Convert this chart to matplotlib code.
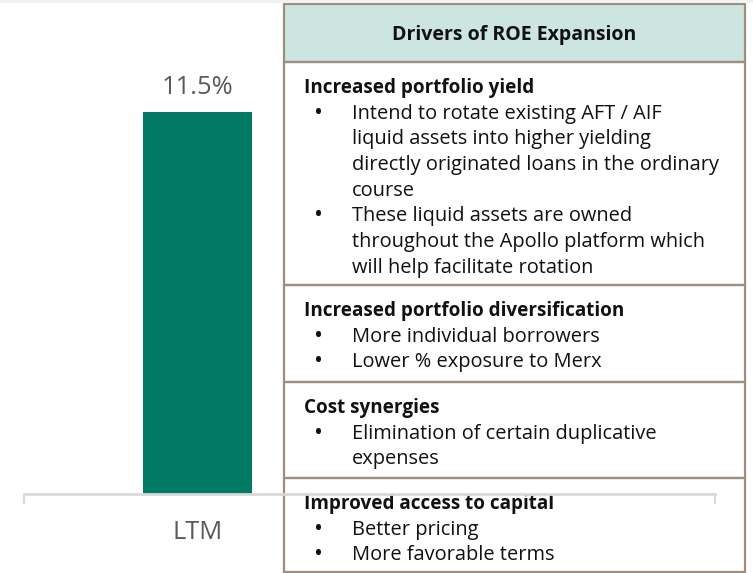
import matplotlib
matplotlib.use("Agg")
import matplotlib.pyplot as plt
from matplotlib.patches import Rectangle

plt.rcParams['font.family'] = ['Open Sans', 'DejaVu Sans']

# ---- data ----
categories = ["LTM"]
roe_values = [11.5]
value_labels = ["11.5%"]

table_title = "Drivers of ROE Expansion"
driver_headings = [
    "Increased portfolio yield",
    "Increased portfolio diversification",
    "Cost synergies",
    "Improved access to capital",
]
driver_bullets = [
    [["Intend to rotate existing AFT / AIF", "liquid assets into higher yielding",
      "directly originated loans in the ordinary", "course"],
     ["These liquid assets are owned", "throughout the Apollo platform which",
      "will help facilitate rotation"]],
    [["More individual borrowers"], ["Lower % exposure to Merx"]],
    [["Elimination of certain duplicative", "expenses"]],
    [["Better pricing"], ["More favorable terms"]],
]

W, H = 753, 573
DPI = 100
fig = plt.figure(figsize=(W / DPI, H / DPI), dpi=DPI)
fig.patch.set_facecolor("white")

# top grey strip
fig.patches.append(Rectangle((0, 1 - 3 / H), 1, 3 / H, transform=fig.transFigure,
                             facecolor="#f2f2f2", edgecolor="none", zorder=0))

# ---- table (pixel coordinate overlay) ----
tab = fig.add_axes([0, 0, 1, 1], zorder=0)
tab.set_xlim(0, W)
tab.set_ylim(H, 0)
tab.axis("off")

border = "#9c8f82"
x0, x1 = 284, 745
row_edges = [4, 62, 285, 382, 478, 572]
tab.add_patch(Rectangle((x0, row_edges[0]), x1 - x0, row_edges[1] - row_edges[0],
                        facecolor="#cde5e0", edgecolor="none"))
for i in range(len(row_edges) - 1):
    tab.add_patch(Rectangle((x0, row_edges[i]), x1 - x0, row_edges[i + 1] - row_edges[i],
                            facecolor="none", edgecolor=border, linewidth=1.6))

tab.text((x0 + x1) / 2, (row_edges[0] + row_edges[1]) / 2 + 2, table_title,
         ha="center", va="center", fontsize=14.0, fontweight="bold", color="#111111")

line_h = 25.7
for r, (head, bullets) in enumerate(zip(driver_headings, driver_bullets)):
    y = row_edges[r + 1] + 26
    tab.text(304, y, head, ha="left", va="center", fontsize=13.6,
             fontweight="bold", color="#111111")
    for b in bullets:
        y += line_h
        tab.text(319, y, "•", ha="center", va="center", fontsize=17, color="#111111")
        for j, ln in enumerate(b):
            if j > 0:
                y += line_h
            tab.text(352, y, ln, ha="left", va="center", fontsize=14.4, color="#111111")

# ---- bar chart ----
ax_left, ax_right = 24, 715
ax_bottom = 494
ymax = 14.0
px_per_unit = (494 - 112) / roe_values[0]
ax_top = ax_bottom - ymax * px_per_unit
ax = fig.add_axes([ax_left / W, 1 - ax_bottom / H, (ax_right - ax_left) / W,
                   (ax_bottom - ax_top) / H], zorder=1)
ax.patch.set_visible(False)

bar_w = 0.8
unit_px = 109 / bar_w
xl = -(197.5 - ax_left) / unit_px
xr = xl + (ax_right - ax_left) / unit_px
xs = list(range(len(categories)))
bars = ax.bar(xs, roe_values, width=bar_w, color="#007a62", zorder=2)
ax.set_xlim(xl, xr)
ax.set_ylim(0, ymax)

for b, lab in zip(bars, value_labels):
    ax.annotate(lab, (b.get_x() + b.get_width() / 2, b.get_height()),
                xytext=(0, 18), textcoords="offset points", ha="center", va="center",
                fontsize=18.4, color="#595959")

for s in ["top", "right", "left"]:
    ax.spines[s].set_visible(False)
ax.spines["bottom"].set_color("#d9d9d9")
ax.spines["bottom"].set_linewidth(2)
ax.set_yticks([])
ax.set_xticks(xs)
ax.set_xticklabels(categories, fontsize=18.4, color="#595959")
ax.tick_params(axis="x", length=0, pad=19)
ax.set_xticks([xl, xr], minor=True)
ax.tick_params(axis="x", which="minor", length=7.5, width=1.5, color="#d9d9d9", direction="out")

fig.savefig("out.png", dpi=DPI)
